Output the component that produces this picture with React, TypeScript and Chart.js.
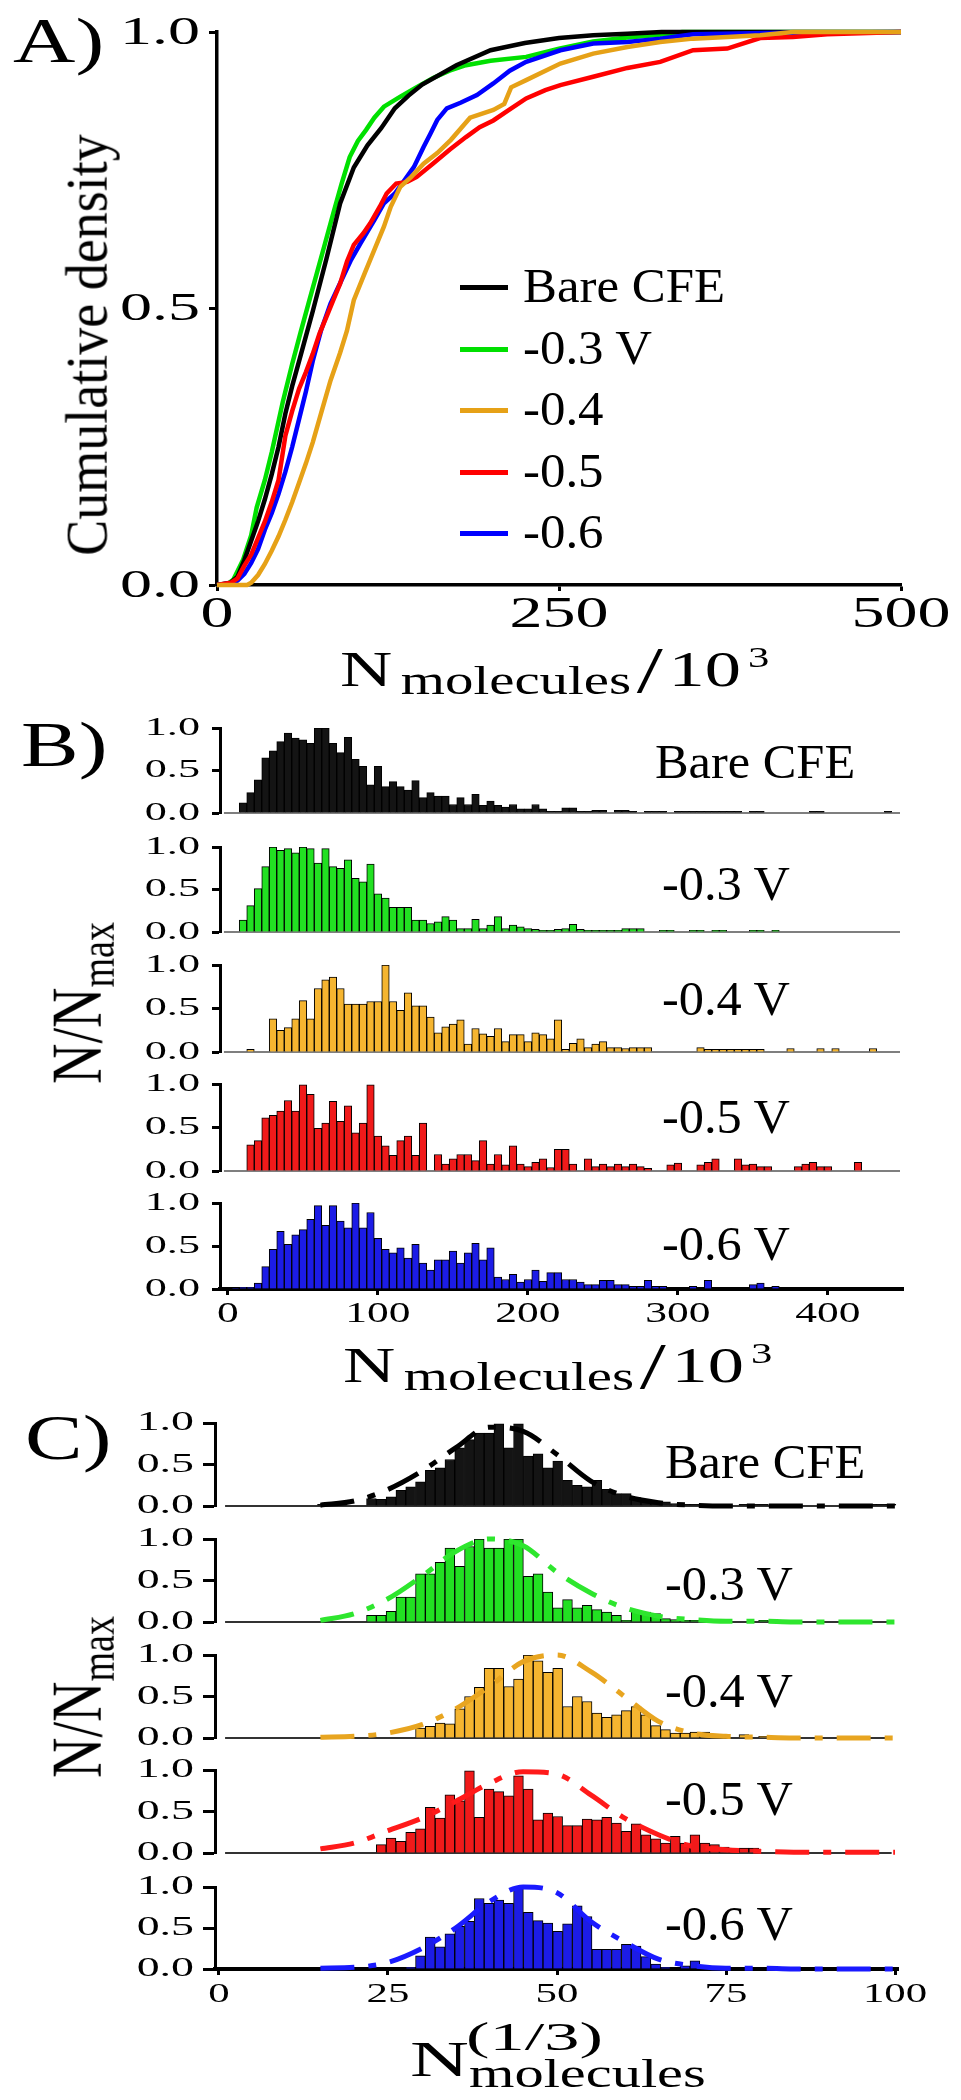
import React, { useEffect, useRef } from 'react';
import { Chart, registerables } from 'chart.js';

Chart.register(...registerables);

const SERIF = '"Liberation Serif", "Times New Roman", Times, serif';

// ---------------- DATA ----------------
// Panel A: cumulative density curves (x in 10^3 molecules)
const A_BLACK_X = [0, 10, 15, 20, 25, 30, 35, 40, 45, 50, 55, 60, 65, 70, 80, 90, 100, 110, 120, 130, 140, 150, 175, 200, 225, 250, 275, 300, 325, 500];
const A_BLACK_Y = [0, 0.004, 0.015, 0.045, 0.08, 0.115, 0.155, 0.2, 0.25, 0.31, 0.36, 0.405, 0.45, 0.495, 0.59, 0.69, 0.755, 0.795, 0.826, 0.862, 0.885, 0.905, 0.94, 0.967, 0.98, 0.989, 0.994, 0.997, 1.0, 1.0];
const A_GREEN_X = [0, 8, 12, 19, 25, 29, 35, 40, 48, 55, 61, 67, 73, 79, 85, 91, 97, 103, 109, 115, 122, 134, 146, 158, 170, 182, 200, 226, 250, 275, 300, 324, 340, 500];
const A_GREEN_Y = [0, 0.002, 0.01, 0.045, 0.09, 0.14, 0.19, 0.24, 0.33, 0.4, 0.456, 0.51, 0.564, 0.618, 0.672, 0.725, 0.774, 0.803, 0.823, 0.845, 0.865, 0.883, 0.9, 0.917, 0.93, 0.94, 0.948, 0.955, 0.97, 0.983, 0.99, 0.995, 1.0, 1.0];
const A_ORANGE_X = [0, 22, 25, 30, 35, 40, 45, 50, 55, 60, 65, 70, 76, 83, 90, 95, 100, 108, 115, 122, 127, 134, 142, 151, 161, 171, 185, 202, 210, 215, 226, 251, 275, 300, 324, 348, 373, 397, 421, 500];
const A_ORANGE_Y = [0, 0, 0.004, 0.018, 0.038, 0.062, 0.088, 0.118, 0.15, 0.185, 0.22, 0.258, 0.31, 0.37, 0.42, 0.46, 0.515, 0.564, 0.606, 0.648, 0.684, 0.72, 0.738, 0.762, 0.781, 0.805, 0.845, 0.859, 0.87, 0.9, 0.913, 0.943, 0.961, 0.973, 0.982, 0.988, 0.991, 0.994, 1.0, 1.0];
const A_RED_X = [0, 10, 15, 20, 25, 30, 35, 40, 45, 50, 55, 60, 65, 70, 75, 80, 85, 90, 95, 100, 107, 112, 119, 124, 131, 139, 146, 158, 170, 182, 192, 202, 214, 226, 240, 251, 275, 300, 324, 348, 373, 397, 421, 446, 500];
const A_RED_Y = [0, 0.004, 0.012, 0.035, 0.055, 0.085, 0.115, 0.15, 0.19, 0.27, 0.315, 0.355, 0.385, 0.418, 0.455, 0.485, 0.515, 0.545, 0.585, 0.615, 0.636, 0.654, 0.684, 0.708, 0.726, 0.729, 0.738, 0.762, 0.787, 0.81, 0.828, 0.84, 0.86, 0.88, 0.895, 0.904, 0.919, 0.935, 0.946, 0.967, 0.97, 0.989, 0.991, 0.996, 1.0];
const A_BLUE_X = [0, 10, 15, 20, 25, 30, 35, 40, 45, 50, 55, 60, 65, 70, 76, 83, 91, 98, 105, 115, 122, 130, 137, 144, 151, 156, 161, 168, 178, 190, 202, 214, 226, 251, 275, 300, 324, 348, 400, 500];
const A_BLUE_Y = [0, 0.003, 0.008, 0.02, 0.04, 0.065, 0.1, 0.13, 0.165, 0.205, 0.25, 0.3, 0.35, 0.405, 0.46, 0.509, 0.551, 0.588, 0.618, 0.66, 0.69, 0.708, 0.732, 0.756, 0.792, 0.816, 0.841, 0.862, 0.872, 0.886, 0.907, 0.93, 0.946, 0.967, 0.979, 0.982, 0.988, 0.996, 0.998, 1.0];
const A_X_TICKS = [0, 250, 500];
const A_Y_TICKS = [0, 0.5, 1];
const A_LEGEND = ['Bare CFE', '-0.3 V', '-0.4', '-0.5', '-0.6'];

// Panel B: N/Nmax histograms, bins of 5 (x 10^3), first bin centred at 5
const B_FIRST_CENTER = 5;
const B_BIN = 5;
const B_BLACK = [0, 0.12, 0.24, 0.39, 0.65, 0.73, 0.84, 0.94, 0.88, 0.86,
  0.82, 1.0, 1.0, 0.82, 0.71, 0.89, 0.63, 0.55, 0.33, 0.55,
  0.31, 0.37, 0.31, 0.27, 0.38, 0.18, 0.24, 0.2, 0.2, 0.1,
  0.18, 0.1, 0.22, 0.09, 0.14, 0.09, 0.07, 0.1, 0.05, 0.05,
  0.1, 0.05, 0.02, 0.02, 0.06, 0.06, 0.02, 0.02, 0.03, 0.03,
  0, 0.03, 0.03, 0.02, 0, 0.02, 0.02, 0.02, 0, 0.02,
  0.02, 0.02, 0.02, 0.02, 0.02, 0.02, 0.02, 0.02, 0, 0.02,
  0.02, 0, 0, 0, 0, 0, 0, 0.02, 0.02, 0,
  0, 0, 0, 0, 0, 0, 0, 0.02, 0];
const B_GREEN = [0, 0.14, 0.31, 0.51, 0.77, 1.0, 0.96, 0.98, 0.93, 1.0,
  0.98, 0.81, 0.98, 0.77, 0.75, 0.85, 0.63, 0.59, 0.8, 0.45,
  0.4, 0.29, 0.29, 0.29, 0.14, 0.14, 0.1, 0.12, 0.18, 0.14,
  0.04, 0.04, 0.15, 0.04, 0.08, 0.18, 0.04, 0.08, 0.06, 0.04,
  0.03, 0.02, 0.02, 0.03, 0.04, 0.09, 0.03, 0.02, 0.02, 0.02,
  0.02, 0.02, 0.04, 0.04, 0.04, 0, 0, 0.02, 0.02, 0,
  0, 0.02, 0.02, 0, 0.02, 0.02, 0, 0, 0, 0.02,
  0.02, 0, 0.02, 0, 0, 0, 0, 0, 0, 0,
  0, 0, 0, 0, 0, 0, 0, 0, 0];
const B_ORANGE = [0, 0, 0.03, 0, 0, 0.38, 0.25, 0.28, 0.38, 0.59,
  0.38, 0.73, 0.83, 0.86, 0.73, 0.55, 0.55, 0.55, 0.58, 0.58,
  1.0, 0.58, 0.48, 0.68, 0.53, 0.53, 0.4, 0.22, 0.29, 0.32,
  0.37, 0.09, 0.27, 0.21, 0.18, 0.27, 0.12, 0.2, 0.2, 0.12,
  0.22, 0.2, 0.15, 0.37, 0.03, 0.1, 0.15, 0.05, 0.09, 0.12,
  0.05, 0.05, 0.04, 0.05, 0.05, 0.05, 0, 0, 0, 0,
  0, 0, 0.05, 0.03, 0.03, 0.03, 0.03, 0.03, 0.03, 0.03,
  0.03, 0, 0, 0, 0.04, 0, 0, 0, 0.04, 0,
  0.04, 0, 0, 0, 0, 0.04, 0, 0, 0];
const B_RED = [0, 0, 0.3, 0.35, 0.61, 0.64, 0.69, 0.81, 0.69, 0.99,
  0.88, 0.49, 0.55, 0.8, 0.57, 0.75, 0.44, 0.55, 0.99, 0.4,
  0.29, 0.18, 0.35, 0.4, 0.18, 0.55, 0, 0.19, 0.08, 0.14,
  0.19, 0.19, 0.12, 0.35, 0.08, 0.19, 0.07, 0.29, 0.08, 0.05,
  0.1, 0.14, 0.04, 0.25, 0.25, 0.08, 0, 0.14, 0.05, 0.08,
  0.05, 0.08, 0.05, 0.08, 0.05, 0.03, 0, 0, 0.07, 0.09,
  0, 0, 0.07, 0.1, 0.14, 0, 0, 0.14, 0.07, 0.08,
  0.05, 0.05, 0, 0, 0, 0.05, 0.08, 0.1, 0.05, 0.05,
  0, 0, 0, 0.1, 0, 0, 0, 0, 0];
const B_BLUE = [0.01, 0.02, 0.02, 0.07, 0.26, 0.46, 0.67, 0.52, 0.63, 0.69,
  0.81, 0.97, 0.74, 0.97, 0.79, 0.71, 1.0, 0.71, 0.89, 0.59,
  0.46, 0.42, 0.48, 0.36, 0.52, 0.3, 0.22, 0.34, 0.34, 0.44,
  0.3, 0.42, 0.53, 0.34, 0.48, 0.14, 0.11, 0.17, 0.08, 0.11,
  0.22, 0.09, 0.19, 0.19, 0.11, 0.11, 0.08, 0.05, 0.05, 0.1,
  0.1, 0.05, 0.05, 0.03, 0.03, 0.1, 0.03, 0.03, 0, 0,
  0, 0.03, 0, 0.1, 0, 0, 0, 0, 0, 0.05,
  0.07, 0, 0.03, 0, 0, 0, 0, 0, 0, 0,
  0, 0, 0, 0, 0, 0, 0, 0, 0];
const B_X_TICKS = [0, 100, 200, 300, 400];

// Panel C: N^(1/3) histograms, bins of 1.45, first bin centred at 15.3
const C_FIRST_CENTER = 15.3;
const C_BIN = 1.45;
const C_BLACK = [0.02, 0, 0.02, 0, 0, 0.09, 0.08, 0.11, 0.19, 0.23,
  0.29, 0.43, 0.46, 0.56, 0.7, 0.8, 0.88, 0.88, 0.99, 0.7,
  0.99, 0.6, 0.63, 0.46, 0.54, 0.31, 0.25, 0.23, 0.31, 0.2,
  0.15, 0.15, 0.1, 0.08, 0.06, 0.05, 0.03, 0.02, 0.02, 0.02,
  0.02, 0.02, 0, 0.02, 0.02, 0.02, 0, 0.02, 0.02, 0,
  0, 0, 0, 0, 0, 0.02, 0.02, 0.02, 0.02];
const C_GREEN = [0, 0, 0, 0, 0, 0.08, 0.08, 0.13, 0.3, 0.3,
  0.58, 0.58, 0.72, 0.89, 0.67, 0.91, 1.0, 0.89, 0.89, 1.0,
  1.0, 0.55, 0.58, 0.36, 0.17, 0.27, 0.17, 0.2, 0.15, 0.12,
  0.08, 0.02, 0.12, 0.12, 0.1, 0.04, 0.03, 0.02, 0.02, 0,
  0.02, 0, 0, 0, 0, 0.02, 0, 0, 0, 0,
  0, 0, 0, 0, 0, 0, 0, 0, 0];
const C_ORANGE = [0, 0, 0, 0, 0, 0, 0, 0, 0, 0,
  0.12, 0.14, 0.18, 0.17, 0.35, 0.5, 0.61, 0.84, 0.84, 0.62,
  0.71, 1.0, 0.93, 0.79, 0.84, 0.38, 0.5, 0.44, 0.3, 0.25,
  0.28, 0.33, 0.38, 0.28, 0.15, 0.1, 0.06, 0.06, 0.07, 0.07,
  0.02, 0.02, 0, 0.04, 0, 0.02, 0, 0, 0, 0,
  0, 0, 0, 0, 0, 0, 0, 0, 0];
const C_RED = [0, 0, 0, 0, 0, 0, 0.1, 0.18, 0.14, 0.25,
  0.29, 0.55, 0.42, 0.7, 0.63, 0.99, 0.43, 0.77, 0.74, 0.69,
  0.93, 0.77, 0.4, 0.48, 0.44, 0.33, 0.33, 0.41, 0.4, 0.43,
  0.36, 0.26, 0.35, 0.22, 0.17, 0.12, 0.2, 0.12, 0.22, 0.12,
  0.1, 0.07, 0.03, 0.06, 0.06, 0, 0, 0, 0, 0,
  0, 0, 0, 0, 0, 0, 0, 0, 0];
const C_BLUE = [0, 0, 0, 0, 0, 0, 0, 0, 0, 0.02,
  0.16, 0.39, 0.27, 0.43, 0.52, 0.58, 0.86, 0.8, 0.84, 0.8,
  0.99, 0.69, 0.59, 0.56, 0.46, 0.55, 0.77, 0.64, 0.24, 0.24,
  0.24, 0.3, 0.28, 0.15, 0.06, 0.02, 0, 0.04, 0.1, 0.03,
  0, 0, 0, 0, 0, 0, 0, 0, 0, 0,
  0, 0, 0, 0, 0, 0, 0, 0, 0];
// fitted curves (dash-dot) in panel C
const FIT_X = [15, 20, 25, 30, 35, 40, 45, 50, 55, 60, 65, 70, 75, 80, 85, 90, 95, 100];
const FIT_BLACK = [0.01, 0.06, 0.2, 0.42, 0.7, 0.95, 0.9, 0.62, 0.3, 0.12, 0.04, 0.01, 0, 0, 0, 0, 0, 0];
const FIT_GREEN = [0.02, 0.1, 0.28, 0.55, 0.85, 1.0, 0.92, 0.6, 0.35, 0.17, 0.07, 0.03, 0.01, 0.01, 0, 0, 0, 0];
const FIT_ORANGE = [0.01, 0.02, 0.06, 0.16, 0.35, 0.62, 0.92, 1.0, 0.8, 0.5, 0.2, 0.06, 0.02, 0.01, 0, 0, 0, 0];
const FIT_RED = [0.05, 0.12, 0.27, 0.42, 0.62, 0.84, 0.98, 0.95, 0.7, 0.42, 0.22, 0.08, 0.04, 0.02, 0.01, 0.01, 0.01, 0.01];
const FIT_BLUE = [0.01, 0.02, 0.08, 0.25, 0.5, 0.82, 1.0, 0.93, 0.58, 0.33, 0.12, 0.04, 0.01, 0.01, 0, 0, 0, 0];
const C_X_TICKS = [0, 25, 50, 75, 100];
const HIST_Y_TICKS = [0, 0.5, 1];
const HIST_LABELS = ['Bare CFE', '-0.3 V', '-0.4 V', '-0.5 V', '-0.6 V'];

// ---------------- STYLE / LAYOUT ----------------
const LINE_COLORS = ['#000000', '#00e000', '#e6a117', '#ff0000', '#0000ff'];
const BAR_COLORS = ['#141414', '#22e022', '#f5b530', '#f01a1a', '#1c1ce6'];
const FIT_COLORS = ['#000000', '#2ee62e', '#e8a520', '#ff1a1a', '#1a1aff'];

const B_LEFT = 220, B_RIGHT = 903, B_XMIN = -5.33, B_XMAX = 450;
const B_TOPS = [728, 847, 965, 1084, 1203];
const B_BOTS = [813, 932, 1052, 1171, 1289];
const B_LABEL_POS = [[655, 778], [662, 900], [662, 1015], [662, 1133], [662, 1260]];

const C_LEFT = 215, C_RIGHT = 898, C_XMIN = -0.59, C_XMAX = 100.44;
const C_TOPS = [1423, 1539, 1655, 1770, 1887];
const C_BOTS = [1506, 1622, 1738, 1853, 1969];
const C_LABEL_POS = [[665, 1478], [665, 1600], [665, 1707], [665, 1815], [665, 1940]];

// ---------------- helpers ----------------
function pts(xs: number[], ys: number[]) {
  return xs.map((x, i) => ({ x, y: ys[i] }));
}
function binPts(first: number, width: number, vals: number[]) {
  return vals.map((v, i) => ({ x: first + i * width, y: v > 0 ? v : null }));
}

type TT = { size: number; sx: number; dx?: number; dy?: number; align: CanvasTextAlign; baseline: CanvasTextBaseline; decimals: number };

function tickTextPlugin(cfg: { x?: TT; y?: TT }) {
  return {
    id: 'tickText',
    afterDraw(chart: any) {
      const ctx: CanvasRenderingContext2D = chart.ctx;
      const area = chart.chartArea;
      (['x', 'y'] as const).forEach((k) => {
        const o = cfg[k];
        if (!o) return;
        const scale = chart.scales[k];
        ctx.save();
        ctx.fillStyle = '#000';
        ctx.font = `${o.size}px ${SERIF}`;
        ctx.textAlign = o.align;
        ctx.textBaseline = o.baseline;
        scale.ticks.forEach((t: any) => {
          const p = scale.getPixelForValue(t.value);
          const px = k === 'x' ? p : area.left + (o.dx || 0);
          const py = k === 'x' ? area.bottom + (o.dy || 0) : p + (o.dy || 0);
          ctx.save();
          ctx.translate(px, py);
          ctx.scale(o.sx, 1);
          ctx.fillText(Number(t.value).toFixed(o.decimals), 0, 0);
          ctx.restore();
        });
        ctx.restore();
      });
    },
  };
}

function baselinePlugin(from: number, to: number, color: string, width: number) {
  return {
    id: 'baseline',
    beforeDatasetsDraw(chart: any) {
      const ctx: CanvasRenderingContext2D = chart.ctx;
      const xs = chart.scales.x, ys = chart.scales.y;
      const y = ys.getPixelForValue(0);
      ctx.save();
      ctx.strokeStyle = color;
      ctx.lineWidth = width;
      ctx.beginPath();
      ctx.moveTo(xs.getPixelForValue(from), y);
      ctx.lineTo(xs.getPixelForValue(to), y);
      ctx.stroke();
      ctx.restore();
    },
  };
}

function axis(o: { min: number; max: number; ticks: number[]; horizontal: boolean; tickLength: number; tickWidth: number; border: number; showTicks: boolean; showBorder: boolean }) {
  return {
    type: 'linear',
    min: o.min,
    max: o.max,
    offset: false,
    afterBuildTicks: (s: any) => { s.ticks = o.ticks.map((v) => ({ value: v })); },
    afterFit: (s: any) => { if (o.horizontal) s.height = 0; else s.width = 0; },
    ticks: { display: false },
    grid: { display: o.showTicks, drawOnChartArea: false, drawTicks: true, tickLength: o.tickLength, tickWidth: o.tickWidth, tickColor: '#000', offset: false },
    border: { display: o.showBorder, width: o.border, color: '#000' },
  };
}

function baseOptions(padding: any, x: any, y: any) {
  return {
    responsive: false,
    maintainAspectRatio: false,
    animation: false,
    devicePixelRatio: 1,
    events: [],
    layout: { padding, autoPadding: false },
    plugins: { legend: { display: false }, tooltip: { enabled: false }, title: { display: false } },
    scales: { x, y },
  };
}

function Plot({ left, top, width, height, make }: { left: number; top: number; width: number; height: number; make: () => any }) {
  const ref = useRef<HTMLCanvasElement>(null);
  useEffect(() => {
    const chart = new Chart(ref.current as HTMLCanvasElement, make());
    return () => chart.destroy();
  }, []);
  return <canvas ref={ref} width={width} height={height} style={{ position: 'absolute', left, top, width, height }} />;
}

function Txt({ x, y, size, sx = 1, children }: { x: number; y: number; size: number; sx?: number; children: any }) {
  return (
    <div style={{ position: 'absolute', left: x, top: y - 0.8375 * size, fontFamily: SERIF, fontSize: size, lineHeight: `${size}px`, whiteSpace: 'nowrap', transform: `scaleX(${sx})`, transformOrigin: '0 0', color: '#000' }}>
      {children}
    </div>
  );
}

function VTxt({ cx, cy, size, sy = 1, children }: { cx: number; cy: number; size: number; sy?: number; children: any }) {
  return (
    <div style={{ position: 'absolute', left: cx, top: cy, fontFamily: SERIF, fontSize: size, lineHeight: `${size}px`, whiteSpace: 'nowrap', transform: `translate(-50%, -50%) rotate(-90deg) scaleY(${sy})`, transformOrigin: '50% 50%', color: '#000' }}>
      {children}
    </div>
  );
}

function XTitle({ x, y }: { x: number; y: number }) {
  return (
    <div style={{ position: 'absolute', left: x, top: y - 0.8375 * 51, fontFamily: SERIF, fontSize: 51, lineHeight: '51px', whiteSpace: 'nowrap', transform: 'scaleX(1.42)', transformOrigin: '0 0', color: '#000' }}>
      N<span style={{ fontSize: 40, position: 'relative', top: 8, marginLeft: 6, lineHeight: 0 }}>molecules</span>
      <span style={{ fontSize: 66, position: 'relative', top: 6, marginLeft: 4, lineHeight: 0 }}>/</span>
      <span style={{ marginLeft: 4 }}>10</span>
      <span style={{ fontSize: 30, position: 'relative', top: -19, marginLeft: 5, lineHeight: 0 }}>3</span>
    </div>
  );
}

// ---------------- chart configs ----------------
const A_CANVAS_H = 660;
function makeCdf() {
  const series = [
    { x: A_ORANGE_X, y: A_ORANGE_Y, c: LINE_COLORS[2] },
    { x: A_RED_X, y: A_RED_Y, c: LINE_COLORS[3] },
    { x: A_BLUE_X, y: A_BLUE_Y, c: LINE_COLORS[4] },
    { x: A_BLACK_X, y: A_BLACK_Y, c: LINE_COLORS[0] },
    { x: A_GREEN_X, y: A_GREEN_Y, c: LINE_COLORS[1] },
  ];
  return {
    type: 'line',
    data: {
      datasets: series.map((s) => ({ data: pts(s.x, s.y), borderColor: s.c, borderWidth: 4.5, pointRadius: 0, fill: false, tension: 0, clip: false })),
    },
    options: baseOptions(
      { left: 217, right: 961 - 901, top: 32, bottom: A_CANVAS_H - 585 },
      axis({ min: 0, max: 500, ticks: A_X_TICKS, horizontal: true, tickLength: 6, tickWidth: 3, border: 3.5, showTicks: true, showBorder: true }),
      axis({ min: 0, max: 1, ticks: A_Y_TICKS, horizontal: false, tickLength: 8, tickWidth: 3, border: 3.5, showTicks: true, showBorder: true }),
    ),
    plugins: [tickTextPlugin({
      x: { size: 44, sx: 1.5, dy: 42, align: 'center', baseline: 'alphabetic', decimals: 0 },
      y: { size: 40, sx: 1.6, dx: -17, dy: 1, align: 'right', baseline: 'middle', decimals: 1 },
    })],
  };
}

const B_SERIES = [B_BLACK, B_GREEN, B_ORANGE, B_RED, B_BLUE];
const C_SERIES = [C_BLACK, C_GREEN, C_ORANGE, C_RED, C_BLUE];
const FIT_SERIES = [FIT_BLACK, FIT_GREEN, FIT_ORANGE, FIT_RED, FIT_BLUE];

function histSpec(panel: 'B' | 'C', i: number) {
  const isB = panel === 'B';
  const T = isB ? B_TOPS[i] : C_TOPS[i];
  const Bt = isB ? B_BOTS[i] : C_BOTS[i];
  const last = i === 4;
  const padTop = 25;
  const padBot = last ? 50 : 12;
  const L = isB ? B_LEFT : C_LEFT;
  const R = isB ? B_RIGHT : C_RIGHT;
  const height = Bt - T + padTop + padBot;
  const make = () => {
    const datasets: any[] = [{
      type: 'bar',
      data: isB ? binPts(B_FIRST_CENTER, B_BIN, B_SERIES[i]) : binPts(C_FIRST_CENTER, C_BIN, C_SERIES[i]),
      backgroundColor: BAR_COLORS[i],
      borderColor: '#000',
      borderWidth: 1,
      borderSkipped: 'start',
      barPercentage: 1,
      categoryPercentage: 1,
      grouped: false,
      order: 1,
    }];
    if (!isB) {
      datasets.push({
        type: 'line',
        data: pts(FIT_X, FIT_SERIES[i]),
        borderColor: FIT_COLORS[i],
        borderWidth: 5,
        borderDash: [34, 14, 8, 14],
        pointRadius: 0,
        fill: false,
        cubicInterpolationMode: 'monotone',
        clip: false,
        order: 0,
      });
    }
    const plugins: any[] = [tickTextPlugin({
      y: isB
        ? { size: 26, sx: 1.7, dx: -20, dy: 0, align: 'right', baseline: 'middle', decimals: 1 }
        : { size: 27, sx: 1.7, dx: -21, dy: 0, align: 'right', baseline: 'middle', decimals: 1 },
      x: last
        ? (isB
          ? { size: 30, sx: 1.45, dy: 33, align: 'center', baseline: 'alphabetic', decimals: 0 }
          : { size: 28, sx: 1.53, dy: 33, align: 'center', baseline: 'alphabetic', decimals: 0 })
        : undefined,
    })];
    if (!last) {
      plugins.push(isB ? baselinePlugin(-2.7, 448, '#555', 1.6) : baselinePlugin(0.9, 99.5, '#333', 1.8));
    }
    return {
      type: 'bar',
      data: { datasets },
      options: baseOptions(
        { left: L, right: 961 - R, top: padTop, bottom: padBot },
        axis({
          min: isB ? B_XMIN : C_XMIN, max: isB ? B_XMAX : C_XMAX, ticks: isB ? B_X_TICKS : C_X_TICKS,
          horizontal: true, tickLength: 6, tickWidth: 3, border: 4, showTicks: last, showBorder: last,
        }),
        axis({
          min: 0, max: 1, ticks: HIST_Y_TICKS, horizontal: false, tickLength: isB ? 8 : 12, tickWidth: 3, border: 3, showTicks: true, showBorder: true,
        }),
      ),
      plugins,
    };
  };
  return { top: T - padTop, height, make };
}

// ---------------- App ----------------
export default function App() {
  const legendRows = [287, 349, 410, 472, 533];
  const legendColors = [LINE_COLORS[0], LINE_COLORS[1], LINE_COLORS[2], LINE_COLORS[3], LINE_COLORS[4]];
  return (
    <div style={{ position: 'absolute', left: 0, top: 0, width: 961, height: 2100, background: '#fff', overflow: 'hidden' }}>
      <Plot left={0} top={0} width={961} height={A_CANVAS_H} make={makeCdf} />
      {[0, 1, 2, 3, 4].map((i) => {
        const s = histSpec('B', i);
        return <Plot key={'b' + i} left={0} top={s.top} width={961} height={s.height} make={s.make} />;
      })}
      {[0, 1, 2, 3, 4].map((i) => {
        const s = histSpec('C', i);
        return <Plot key={'c' + i} left={0} top={s.top} width={961} height={s.height} make={s.make} />;
      })}

      {/* Panel letters */}
      <Txt x={13} y={63} size={64} sx={1.35}>A)</Txt>
      <Txt x={21} y={767} size={64} sx={1.35}>B)</Txt>
      <Txt x={25} y={1460} size={64} sx={1.35}>C)</Txt>

      {/* Panel A legend */}
      {A_LEGEND.map((lab, i) => (
        <React.Fragment key={'lg' + i}>
          <div style={{ position: 'absolute', left: 460, top: legendRows[i] - 2.5, width: 48, height: 5, background: legendColors[i] }} />
          <Txt x={523} y={legendRows[i] + 15.5} size={48} sx={1.06}>{lab}</Txt>
        </React.Fragment>
      ))}

      {/* Panel A axis titles */}
      <VTxt cx={87} cy={345} size={54} sy={1.08}>Cumulative density</VTxt>
      <XTitle x={340} y={687} />

      {/* Panel B titles & labels */}
      <VTxt cx={76} cy={1003} size={56} sy={1.3}>
        N/N<span style={{ fontSize: 38, position: 'relative', top: 10, lineHeight: 0 }}>max</span>
      </VTxt>
      <XTitle x={343} y={1383} />
      {HIST_LABELS.map((lab, i) => (
        <Txt key={'bl' + i} x={B_LABEL_POS[i][0]} y={B_LABEL_POS[i][1]} size={48} sx={1.05}>{lab}</Txt>
      ))}

      {/* Panel C titles & labels */}
      <VTxt cx={76} cy={1697} size={56} sy={1.3}>
        N/N<span style={{ fontSize: 38, position: 'relative', top: 10, lineHeight: 0 }}>max</span>
      </VTxt>
      {HIST_LABELS.map((lab, i) => (
        <Txt key={'cl' + i} x={C_LABEL_POS[i][0]} y={C_LABEL_POS[i][1]} size={48} sx={1.05}>{lab}</Txt>
      ))}
      <Txt x={410} y={2077} size={51} sx={1.6}>N</Txt>
      <Txt x={466} y={2050} size={40} sx={1.76}>(1/3)</Txt>
      <Txt x={469} y={2087} size={40} sx={1.46}>molecules</Txt>
    </div>
  );
}
